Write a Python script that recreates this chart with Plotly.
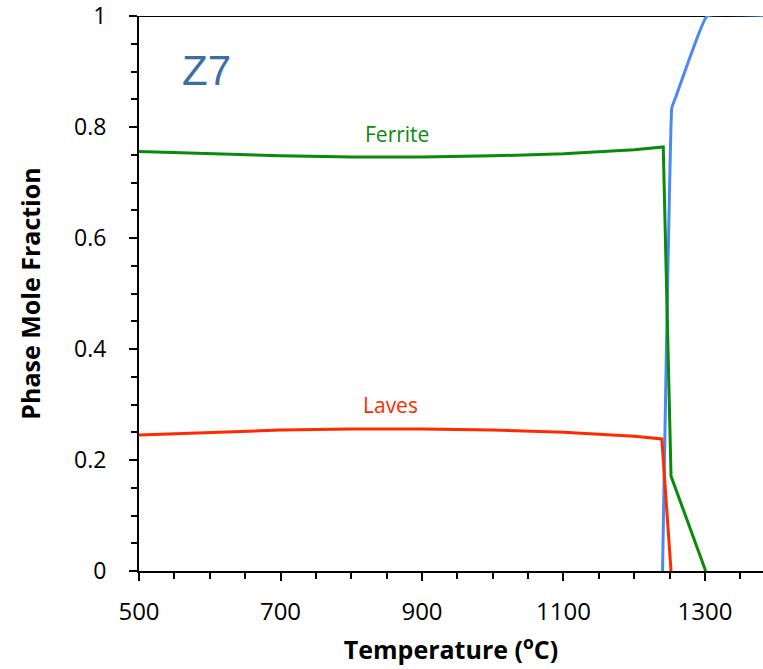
import plotly.graph_objects as go

# Ferrite phase
ferrite_t = [500, 600, 700, 800, 850, 900, 1000, 1100, 1200, 1241, 1252, 1301]
ferrite_f = [0.756, 0.752, 0.748, 0.746, 0.746, 0.746, 0.748, 0.752, 0.759, 0.764, 0.171, 0.0]

# Laves phase
laves_t = [500, 600, 700, 800, 850, 900, 1000, 1100, 1200, 1239, 1252]
laves_f = [0.245, 0.250, 0.254, 0.256, 0.256, 0.256, 0.254, 0.250, 0.243, 0.238, 0.0]

# Liquid phase
liquid_t = [1240, 1253, 1255, 1259, 1280, 1303, 1400]
liquid_f = [0.0, 0.834, 0.842, 0.855, 0.93, 1.0, 1.0]

x_ticks = [500, 700, 900, 1100, 1300]
y_ticks = [0, 0.2, 0.4, 0.6, 0.8, 1]

fig = go.Figure()
fig.add_shape(type="line", xref="x domain", yref="y", x0=0, x1=1, y0=1, y1=1,
              line=dict(color="black", width=2), layer="below")
fig.add_trace(go.Scatter(x=liquid_t, y=liquid_f, mode="lines",
                         line=dict(color="#4a88f5", width=3, shape="spline", smoothing=0.3),
                         showlegend=False, cliponaxis=False))
fig.add_trace(go.Scatter(x=ferrite_t, y=ferrite_f, mode="lines",
                         line=dict(color="#0a8a0a", width=3), showlegend=False))
fig.add_trace(go.Scatter(x=laves_t, y=laves_f, mode="lines",
                         line=dict(color="#ff2a00", width=3), showlegend=False))

fig.add_annotation(x=864, y=0.787, text="Ferrite", showarrow=False,
                   font=dict(family="Open Sans", size=21, color="#0a8a0a"))
fig.add_annotation(x=856, y=0.299, text="Laves", showarrow=False,
                   font=dict(family="Open Sans", size=21, color="#ff2a00"))
fig.add_annotation(x=595, y=0.902, text="Z7", showarrow=False,
                   font=dict(family="Liberation Sans", size=42, color="#3a6ea5"))

fig.update_layout(
    width=763, height=669,
    margin=dict(l=139, r=0, t=16, b=98),
    plot_bgcolor="white", paper_bgcolor="white",
    font=dict(family="Open Sans", size=22, color="black"),
)
fig.update_xaxes(
    range=[500, 1382], tickvals=x_ticks, showgrid=False, zeroline=False,
    showline=True, linecolor="black", linewidth=2, automargin="bottom",
    ticks="outside", ticklen=8, tickwidth=2, tickcolor="black",
    tickfont=dict(family="Open Sans", size=24, color="black"),
    ticklabelstandoff=10, ticklabeloverflow="allow",
    minor=dict(dtick=50, tick0=500, ticks="outside", ticklen=6, tickwidth=2, tickcolor="black", showgrid=False),
    title=dict(text="<b>Temperature (<sup>o</sup>C)</b>",
               font=dict(family="Open Sans", size=25, color="black"), standoff=16),
)
fig.update_yaxes(
    range=[0, 1], tickvals=y_ticks, showgrid=False, zeroline=False,
    showline=True, linecolor="black", linewidth=2, automargin="left",
    ticks="outside", ticklen=8, tickwidth=2, tickcolor="black",
    tickfont=dict(family="Open Sans", size=23, color="black"),
    ticklabelstandoff=18, ticklabeloverflow="allow",
    minor=dict(dtick=0.05, tick0=0, ticks="outside", ticklen=6, tickwidth=2, tickcolor="black", showgrid=False),
    title=dict(text="<b>Phase Mole Fraction</b>",
               font=dict(family="Open Sans", size=25, color="black"), standoff=26),
)

fig.write_html("out.html")
